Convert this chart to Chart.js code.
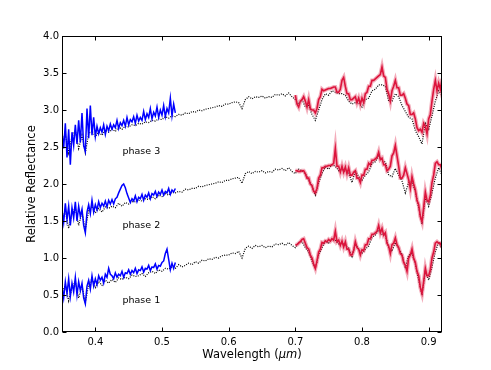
<!DOCTYPE html>
<html>
<head>
<meta charset="utf-8">
<script src="https://cdn.jsdelivr.net/npm/chart.js@4.4.1/dist/chart.umd.min.js"></script>
<style>
  body { margin: 0; background: #fff; }
  canvas { display: block; }
</style>
</head>
<body>
<canvas id="theChart" width="491" height="370"></canvas>
<script>
// sampling grids (micron)
const BLACK_START = 0.35, BLACK_STEP = 0.005;
const BLUE_START = 0.35, BLUE_STEP = 0.0025;
const RED_START = 0.70, RED_STEP = 0.0025;

const X_TICKS = [0.4, 0.5, 0.6, 0.7, 0.8, 0.9];
const Y_TICKS = [0.0, 0.5, 1.0, 1.5, 2.0, 2.5, 3.0, 3.5, 4.0];

const PHASE_LABELS = ["phase 1", "phase 2", "phase 3"];
const LABEL_X = 0.469;
const LABEL_Y = [0.43, 1.44, 2.44];

// black dotted spectra, 0.350 - 0.920
const PHASE1_BLACK = [
  0.52,0.64,0.42,0.60,0.68,0.46,0.62,0.40,0.64,0.72,
  0.60,0.68,0.63,0.70,0.66,0.71,0.67,0.73,0.71,0.74,
  0.72,0.77,0.75,0.76,0.79,0.75,0.80,0.82,0.79,0.84,
  0.82,0.86,0.85,0.88,0.86,0.91,0.88,0.90,0.93,0.91,
  0.95,0.93,0.97,0.96,0.99,0.98,1.01,1.00,1.03,1.04,
  1.04,1.07,1.06,1.09,1.00,1.13,1.16,1.13,1.17,1.15,
  1.17,1.14,1.16,1.15,1.19,1.18,1.20,1.17,1.21,1.17,
  1.14,1.21,1.22,1.14,1.08,0.96,0.86,1.04,1.14,1.23,
  1.20,1.26,1.24,1.19,1.20,1.17,1.13,1.02,1.19,1.12,
  1.06,1.12,1.16,1.28,1.31,1.38,1.32,1.31,1.14,1.09,
  1.21,1.13,1.05,0.86,1.04,1.06,0.92,0.70,0.50,0.82,
  0.70,0.88,1.08,1.22,1.12
];
const PHASE2_BLACK = [
  1.50,1.64,1.40,1.60,1.68,1.44,1.62,1.38,1.64,1.70,
  1.61,1.67,1.62,1.69,1.67,1.70,1.68,1.74,1.70,1.75,
  1.73,1.76,1.76,1.78,1.77,1.80,1.79,1.83,1.80,1.85,
  1.83,1.87,1.85,1.89,1.88,1.90,1.89,1.93,1.92,1.94,
  1.94,1.97,1.96,1.98,1.99,2.00,2.01,2.03,2.02,2.05,
  2.05,2.07,2.08,2.09,2.01,2.14,2.17,2.14,2.17,2.16,
  2.18,2.15,2.17,2.16,2.20,2.19,2.21,2.18,2.22,2.17,
  2.14,2.20,2.18,2.14,2.05,1.97,1.85,2.02,2.14,2.23,
  2.20,2.26,2.24,2.18,2.20,2.17,2.15,2.02,2.18,2.10,
  2.05,2.12,2.16,2.28,2.30,2.38,2.31,2.30,2.12,2.10,
  2.21,2.12,2.04,1.88,2.02,2.03,1.90,1.68,1.46,1.82,
  1.70,1.88,2.08,2.22,2.12
];
const PHASE3_BLACK = [
  2.54,2.68,2.42,2.64,2.72,2.48,2.66,2.42,2.68,2.72,
  2.64,2.70,2.66,2.73,2.70,2.74,2.71,2.77,2.74,2.78,
  2.77,2.80,2.79,2.82,2.81,2.84,2.83,2.86,2.85,2.88,
  2.87,2.91,2.89,2.92,2.91,2.94,2.93,2.96,2.95,2.98,
  2.97,3.00,2.99,3.01,3.02,3.03,3.04,3.06,3.05,3.08,
  3.08,3.10,3.11,3.10,3.02,3.14,3.18,3.15,3.18,3.17,
  3.19,3.16,3.18,3.17,3.21,3.20,3.22,3.19,3.23,3.18,
  3.14,3.08,3.14,3.04,3.06,2.94,2.86,3.00,3.14,3.22,
  3.20,3.26,3.24,3.22,3.22,3.20,3.12,3.08,3.10,3.10,
  3.04,3.14,3.16,3.26,3.28,3.34,3.34,3.32,3.12,3.12,
  3.22,3.18,3.06,2.98,2.90,2.88,2.72,2.64,2.54,2.82,
  2.74,2.92,3.12,3.26,3.20
];

// blue spectra, 0.350 - 0.520
const PHASE1_BLUE = [
  0.60,0.46,0.68,0.52,0.72,0.48,0.66,0.54,0.74,0.50,
  0.68,0.56,0.66,0.46,0.38,0.62,0.70,0.58,0.76,0.62,
  0.72,0.64,0.76,0.70,0.74,0.66,0.78,0.74,0.86,0.78,
  0.76,0.72,0.80,0.74,0.78,0.76,0.82,0.74,0.80,0.79,
  0.84,0.78,0.83,0.80,0.86,0.79,0.84,0.83,0.88,0.81,
  0.86,0.85,0.90,0.83,0.88,0.87,0.92,0.85,0.90,0.89,
  0.94,0.96,1.06,1.12,0.98,0.84,0.93,0.86,0.94
];
const PHASE2_BLUE = [
  1.64,1.48,1.74,1.52,1.70,1.44,1.68,1.54,1.76,1.50,
  1.70,1.56,1.66,1.44,1.34,1.62,1.72,1.60,1.78,1.62,
  1.72,1.65,1.76,1.68,1.74,1.70,1.77,1.69,1.78,1.73,
  1.79,1.73,1.80,1.82,1.88,1.93,1.98,2.00,1.95,1.87,
  1.81,1.75,1.80,1.77,1.84,1.76,1.82,1.80,1.86,1.78,
  1.85,1.82,1.88,1.80,1.87,1.85,1.90,1.83,1.89,1.86,
  1.92,1.85,1.90,1.88,1.94,1.86,1.92,1.89,1.94
];
const PHASE3_BLUE = [
  2.70,2.48,2.82,2.36,2.74,2.26,2.70,2.52,2.80,2.54,
  2.86,2.56,2.96,2.52,2.44,3.02,2.62,3.06,2.66,2.90,
  2.64,2.78,2.68,2.76,2.70,2.80,2.67,2.78,2.72,2.81,
  2.74,2.80,2.76,2.86,2.75,2.83,2.79,2.86,2.78,2.90,
  2.80,2.87,2.84,2.91,2.82,2.93,2.85,2.90,2.86,2.98,
  2.87,2.95,2.90,3.02,2.88,2.97,2.92,3.04,2.90,3.00,
  2.93,3.06,2.91,3.02,2.96,3.16,2.92,3.08,2.96
];

// red spectra, 0.700 - 0.920
const PHASE1_RED = [
  1.18,1.18,1.20,1.22,1.25,1.26,1.20,1.14,1.12,1.04,
  1.00,0.92,0.86,0.96,1.08,1.12,1.21,1.20,1.23,1.22,
  1.25,1.23,1.26,1.24,1.36,1.22,1.24,1.17,1.23,1.15,
  1.22,1.12,1.12,1.04,1.04,1.10,1.22,1.14,1.12,1.04,
  1.11,1.10,1.18,1.18,1.26,1.26,1.32,1.32,1.34,1.36,
  1.44,1.34,1.40,1.31,1.34,1.20,1.16,1.06,1.18,1.20,
  1.27,1.18,1.14,1.06,1.04,0.94,0.90,0.82,1.00,1.04,
  1.12,1.00,0.94,0.82,0.76,0.60,0.52,0.68,0.86,0.76,
  0.76,0.84,1.00,1.08,1.20,1.22,1.20,1.20,1.14
];
const PHASE2_RED = [
  2.18,2.18,2.17,2.17,2.18,2.18,2.14,2.08,2.08,2.00,
  1.98,1.90,1.88,1.94,2.08,2.12,2.22,2.22,2.24,2.24,
  2.25,2.25,2.26,2.28,2.48,2.24,2.24,2.16,2.24,2.16,
  2.23,2.14,2.22,2.12,2.12,2.16,2.18,2.08,2.08,2.02,
  2.12,2.12,2.20,2.20,2.28,2.26,2.32,2.32,2.34,2.36,
  2.43,2.33,2.35,2.26,2.26,2.18,2.20,2.24,2.38,2.42,
  2.52,2.38,2.24,2.08,2.08,2.12,2.22,2.14,2.06,1.94,
  2.10,2.00,1.92,1.78,1.72,1.56,1.49,1.68,1.89,1.78,
  1.76,1.84,2.02,2.12,2.28,2.30,2.26,2.26,2.20
];
const PHASE3_RED = [
  3.20,3.08,3.04,3.12,3.14,3.18,3.12,3.04,3.14,3.02,
  3.00,3.00,2.96,3.02,3.14,3.18,3.28,3.26,3.27,3.28,
  3.29,3.29,3.30,3.31,3.31,3.24,3.24,3.28,3.40,3.44,
  3.32,3.22,3.22,3.14,3.14,3.16,3.18,3.10,3.16,3.08,
  3.16,3.10,3.22,3.24,3.32,3.32,3.40,3.40,3.42,3.44,
  3.46,3.48,3.58,3.46,3.44,3.28,3.22,3.12,3.26,3.32,
  3.40,3.30,3.30,3.20,3.20,3.22,3.16,3.08,3.06,2.94,
  2.94,2.96,2.88,2.76,2.72,2.74,2.70,2.82,2.78,2.68,
  2.88,2.94,3.12,3.28,3.40,3.26,3.36,3.28,3.42
];

const FONT = "'DejaVu Sans', sans-serif";

function toPoints(start, step, vals) {
  return vals.map((v, i) => ({ x: +(start + i * step).toFixed(4), y: v }));
}

function blackSet(vals) {
  return {
    data: toPoints(BLACK_START, BLACK_STEP, vals),
    borderColor: "#000",
    borderWidth: 1.2,
    borderDash: [1, 1.3],
    pointRadius: 0,
    order: 3,
  };
}
function blueSet(vals) {
  return {
    data: toPoints(BLUE_START, BLUE_STEP, vals),
    borderColor: "#0000ff",
    borderWidth: 1.5,
    pointRadius: 0,
    order: 1,
  };
}
function redHalo(vals) {
  return {
    data: toPoints(RED_START, RED_STEP, vals),
    borderColor: "rgba(220, 20, 60, 0.35)",
    borderWidth: 4,
    pointRadius: 0,
    order: 2,
  };
}
function redSet(vals) {
  return {
    data: toPoints(RED_START, RED_STEP, vals),
    borderColor: "#dc143c",
    borderWidth: 1.6,
    pointRadius: 0,
    order: 1,
  };
}

// frame, inward ticks, phase labels and x title
const decorations = {
  id: "decorations",
  afterDatasetsDraw(chart) {
    const { ctx, scales: { x, y } } = chart;
    ctx.save();
    ctx.fillStyle = "#000";
    ctx.font = "9.5px " + FONT;
    ctx.textAlign = "center";
    ctx.textBaseline = "middle";
    PHASE_LABELS.forEach((t, i) => {
      ctx.fillText(t, x.getPixelForValue(LABEL_X), y.getPixelForValue(LABEL_Y[i]));
    });
    ctx.restore();
  },
  afterDraw(chart) {
    const { ctx, chartArea: a, scales: { x, y } } = chart;
    const l = Math.round(a.left) + 0.5, r = Math.round(a.right) - 0.5;
    const t = Math.round(a.top) + 0.5, b = Math.round(a.bottom) - 0.5;
    ctx.save();
    ctx.strokeStyle = "#000";
    ctx.lineWidth = 1;
    ctx.strokeRect(l, t, r - l, b - t);
    ctx.beginPath();
    X_TICKS.forEach((v) => {
      const px = Math.round(x.getPixelForValue(v)) + 0.5;
      ctx.moveTo(px, b); ctx.lineTo(px, b - 4);
      ctx.moveTo(px, t); ctx.lineTo(px, t + 4);
    });
    Y_TICKS.forEach((v) => {
      const py = Math.round(y.getPixelForValue(v)) + 0.5;
      ctx.moveTo(l, py); ctx.lineTo(l + 4, py);
      ctx.moveTo(r, py); ctx.lineTo(r - 4, py);
    });
    ctx.stroke();

    // x title with italic unit
    const parts = [["Wavelength (", ""], ["\u03bcm", "italic "], [")", ""]];
    const size = 11.5;
    let total = 0;
    parts.forEach((p) => {
      ctx.font = p[1] + size + "px " + FONT;
      total += ctx.measureText(p[0]).width;
    });
    let cx = (a.left + a.right) / 2 - total / 2;
    ctx.fillStyle = "#000";
    ctx.textBaseline = "middle";
    ctx.textAlign = "left";
    parts.forEach((p) => {
      ctx.font = p[1] + size + "px " + FONT;
      ctx.fillText(p[0], cx, 355);
      cx += ctx.measureText(p[0]).width;
    });
    ctx.restore();
  },
};

const config = {
  type: "line",
  data: {
    datasets: [
      blackSet(PHASE1_BLACK), blackSet(PHASE2_BLACK), blackSet(PHASE3_BLACK),
      blueSet(PHASE1_BLUE), blueSet(PHASE2_BLUE), blueSet(PHASE3_BLUE),
      redHalo(PHASE1_RED), redHalo(PHASE2_RED), redHalo(PHASE3_RED),
      redSet(PHASE1_RED), redSet(PHASE2_RED), redSet(PHASE3_RED),
    ],
  },
  options: {
    responsive: false,
    animation: false,
    devicePixelRatio: 1,
    layout: { padding: { top: 36, right: 49, left: 0, bottom: 0 } },
    elements: { line: { tension: 0 } },
    plugins: {
      legend: { display: false },
      tooltip: { enabled: false },
    },
    scales: {
      x: {
        type: "linear",
        min: 0.35,
        max: 0.92,
        grid: { display: false, drawTicks: false },
        border: { display: false },
        afterBuildTicks: (scale) => { scale.ticks = X_TICKS.map((v) => ({ value: v })); },
        afterFit: (scale) => { scale.height = 38; },
        ticks: {
          color: "#000",
          padding: 4,
          maxRotation: 0,
          font: { family: FONT, size: 10 },
          callback: (v) => v.toFixed(1),
        },
      },
      y: {
        type: "linear",
        min: 0,
        max: 4,
        grid: { display: false, drawTicks: false },
        border: { display: false },
        afterBuildTicks: (scale) => { scale.ticks = Y_TICKS.map((v) => ({ value: v })); },
        afterFit: (scale) => { scale.width = 62; },
        title: {
          display: true,
          text: "Relative Reflectance",
          color: "#000",
          font: { family: FONT, size: 11.5 },
          padding: { top: 25, bottom: 0 },
        },
        ticks: {
          color: "#000",
          padding: 3,
          font: { family: FONT, size: 10 },
          callback: (v) => v.toFixed(1),
        },
      },
    },
  },
  plugins: [decorations],
};

const theChart = new Chart(document.getElementById("theChart"), config);
</script>
</body>
</html>
